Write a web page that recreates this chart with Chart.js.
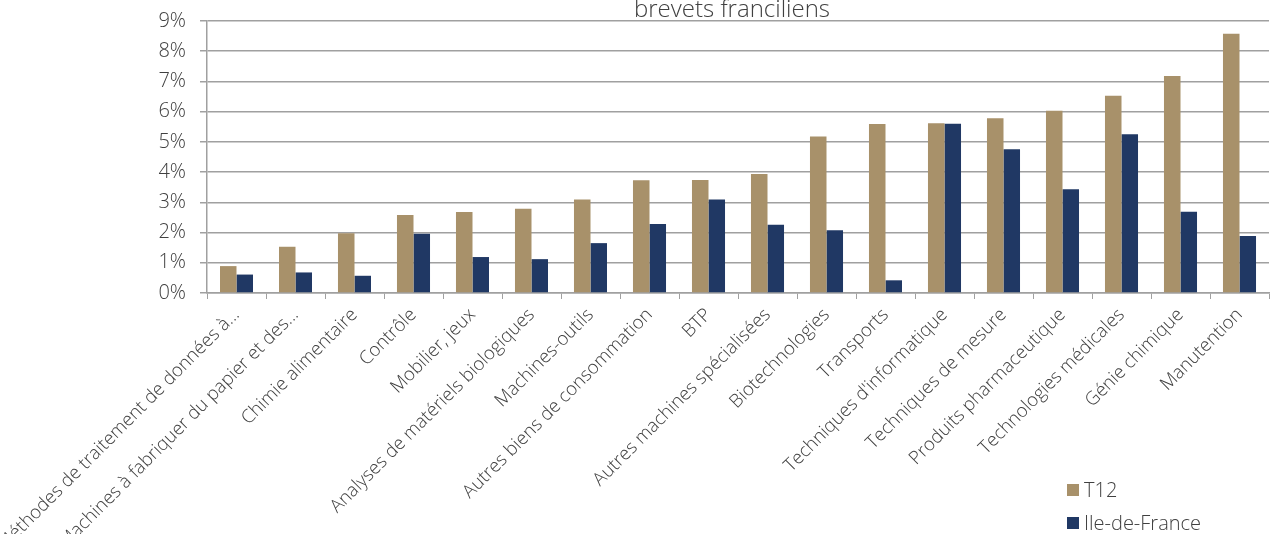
<!DOCTYPE html>
<html lang="fr">
<head>
    <meta charset="UTF-8">
    <title>Brevets franciliens</title>
    <script src="https://cdn.jsdelivr.net/npm/chart.js"></script>
    <style>
        body {
            margin: 0;
            padding: 0;
            background: #ffffff;
            font-family: "Open Sans", "Lato", sans-serif;
            font-weight: 300;
            overflow: hidden;
        }

        .wrap {
            position: relative;
            width: 1276px;
            height: 534px;
            overflow: hidden;
        }

        .chart-title {
            position: absolute;
            top: -9px;
            left: 632px;
            width: 200px;
            text-align: center;
            font-size: 24px;
            color: #404040;
            white-space: nowrap;
        }

        .legend {
            position: absolute;
            left: 1067px;
            top: 473px;
            font-size: 20px;
            color: #404040;
        }

        .legend div {
            display: flex;
            align-items: center;
            height: 33px;
        }

        .legend span.box {
            display: inline-block;
            width: 12px;
            height: 12px;
            margin-right: 5px;
        }
    </style>
</head>
<body>
    <div class="wrap">
        <canvas id="barChart"></canvas>
        <div class="chart-title">brevets franciliens</div>
        <div class="legend" id="legend"></div>
    </div>

    <script>
        const categories = [
            'Méthodes de traitement de données à...',
            'Machines à fabriquer du papier et des...',
            'Chimie alimentaire',
            'Contrôle',
            'Mobilier, jeux',
            'Analyses de matériels biologiques',
            'Machines-outils',
            'Autres biens de consommation',
            'BTP',
            'Autres machines spécialisées',
            'Biotechnologies',
            'Transports',
            "Techniques d'informatique",
            'Techniques de mesure',
            'Produits pharmaceutique',
            'Technologies médicales',
            'Génie chimique',
            'Manutention'
        ];

        // shares in %
        const t12 = [0.89, 1.53, 1.98, 2.58, 2.68, 2.79, 3.09, 3.73, 3.74, 3.94, 5.18, 5.59, 5.62, 5.78, 6.03, 6.53, 7.18, 8.58];
        const ileDeFrance = [0.61, 0.68, 0.57, 1.96, 1.19, 1.12, 1.65, 2.28, 3.09, 2.26, 2.08, 0.42, 5.60, 4.76, 3.43, 5.25, 2.69, 1.89];

        const seriesNames = ['T12', 'Ile-de-France'];
        const seriesColors = ['#a8916a', '#203864'];
        const yTicks = [0, 1, 2, 3, 4, 5, 6, 7, 8, 9];

        const labelFont = '"Open Sans", "Lato", sans-serif';
        const grey = '#a0a0a0';

        const ctx = document.getElementById('barChart').getContext('2d');
        const chart = new Chart(ctx, {
            type: 'bar',
            data: {
                labels: categories,
                datasets: [
                    { label: seriesNames[0], data: t12, backgroundColor: seriesColors[0] },
                    { label: seriesNames[1], data: ileDeFrance, backgroundColor: seriesColors[1] }
                ]
            },
            options: {
                responsive: true,
                maintainAspectRatio: false,
                animation: false,
                layout: { padding: { top: 21, right: 7, left: 0, bottom: 0 } },
                datasets: {
                    bar: { barPercentage: 1, categoryPercentage: 0.56 }
                },
                plugins: {
                    legend: { display: false },
                    title: { display: false },
                    tooltip: { enabled: false }
                },
                scales: {
                    x: {
                        grid: {
                            offset: true,
                            drawOnChartArea: false,
                            color: grey,
                            tickLength: 6
                        },
                        border: { color: grey, width: 1.5 },
                        ticks: {
                            autoSkip: false,
                            maxRotation: 45,
                            minRotation: 45,
                            color: '#404040',
                            padding: 5,
                            font: { family: labelFont, size: 18.5, weight: 300 }
                        },
                        afterFit: (scale) => {
                            scale.height = 241;
                            scale.paddingLeft = 0;
                            scale.paddingRight = 0;
                        }
                    },
                    y: {
                        min: 0,
                        max: 9,
                        afterBuildTicks: (scale) => {
                            scale.ticks = yTicks.map(v => ({ value: v }));
                        },
                        grid: { color: grey, lineWidth: 1.5, tickLength: 7 },
                        border: { color: grey, width: 1.5 },
                        ticks: {
                            color: '#404040',
                            padding: 14,
                            font: { family: labelFont, size: 20, weight: 300 },
                            callback: (v) => v + '%'
                        },
                        afterFit: (scale) => {
                            scale.width = 207;
                            scale.paddingTop = 0;
                            scale.paddingBottom = 0;
                        }
                    }
                }
            }
        });

        // legend as text beside the chart
        const legendEl = document.getElementById('legend');
        chart.data.datasets.forEach(ds => {
            const row = document.createElement('div');
            const box = document.createElement('span');
            box.className = 'box';
            box.style.background = ds.backgroundColor;
            row.appendChild(box);
            row.appendChild(document.createTextNode(ds.label));
            legendEl.appendChild(row);
        });
    </script>
</body>
</html>
